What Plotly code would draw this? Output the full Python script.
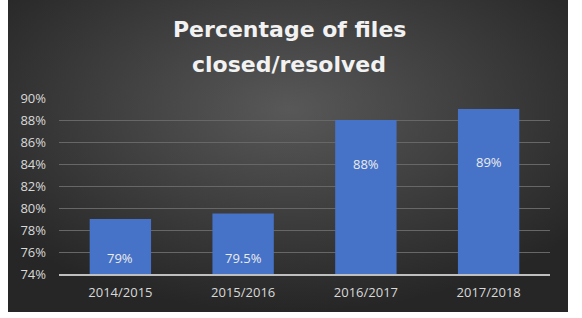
import base64
import plotly.graph_objects as go

# ---- data ----
categories = ["2014/2015", "2015/2016", "2016/2017", "2017/2018"]
values = [79, 79.5, 88, 89]
value_labels = ["79%", "79.5%", "88%", "89%"]
tick_vals = [74, 76, 78, 80, 82, 84, 86, 88, 90]
tick_text = ["74%", "76%", "78%", "80%", "82%", "84%", "86%", "88%", "90%"]
title_lines = ["Percentage of files", "closed/resolved"]

# label placement (as in the reference, labels sit at hand-placed heights)
label_y = [75.45, 75.45, 84.0, 84.2]

W, H = 582, 318
ml, mr, mt, mb = 59, 32, 98, 44
pw, ph = W - ml - mr, H - mt - mb

# radial gradient background panel as SVG image
svg = (
    '<svg xmlns="http://www.w3.org/2000/svg" width="560" height="312" '
    'viewBox="0 0 560 312" preserveAspectRatio="none">'
    '<defs><radialGradient id="g" cx="50%" cy="35%" r="65%">'
    '<stop offset="0" stop-color="#585858"/>'
    '<stop offset="1" stop-color="#262626"/>'
    '</radialGradient></defs>'
    '<rect width="560" height="312" fill="url(#g)"/></svg>'
)
src = "data:image/svg+xml;base64," + base64.b64encode(svg.encode()).decode()

panel_l, panel_r, panel_t, panel_b = 8, 568, 0, 312
img_x = (panel_l - ml) / pw
img_y = (H - mb - panel_t) / ph
img_sx = (panel_r - panel_l) / pw
img_sy = (panel_b - panel_t) / ph


def py(pixel_y):
    return (H - mb - pixel_y) / ph


def px(pixel_x):
    return (pixel_x - ml) / pw


fig = go.Figure()
fig.add_trace(go.Bar(
    x=categories, y=values,
    marker=dict(color="#4673c8", line=dict(width=0)),
    hoverinfo="skip",
))

for c, lab, ly in zip(categories, value_labels, label_y):
    fig.add_annotation(x=c, y=ly, text=lab, showarrow=False,
                       font=dict(family="Open Sans", size=13, color="#ececec"),
                       xanchor="center", yanchor="middle")

for line, cy in zip(title_lines, [30, 64]):
    fig.add_annotation(xref="paper", yref="paper", x=px(289), y=py(cy),
                       text=line, showarrow=False,
                       xanchor="center", yanchor="middle",
                       font=dict(family="DejaVu Sans", size=22,
                                 color="#f2f2f2", weight="bold"))

fig.update_layout(
    width=W, height=H,
    margin=dict(l=ml, r=mr, t=mt, b=mb, pad=0),
    paper_bgcolor="white",
    plot_bgcolor="rgba(0,0,0,0)",
    bargap=0.5,
    showlegend=False,
    images=[dict(source=src, xref="paper", yref="paper",
                 x=img_x, y=img_y, sizex=img_sx, sizey=img_sy,
                 xanchor="left", yanchor="top", sizing="stretch",
                 layer="below")],
    xaxis=dict(
        showgrid=False, zeroline=False,
        showline=True, linecolor="#bfbfbf", linewidth=2,
        ticks="", tickfont=dict(family="Open Sans", size=13, color="#d9d9d9"),
        ticklabelstandoff=5,
    ),
    yaxis=dict(
        range=[74, 90], tickvals=tick_vals, ticktext=tick_text,
        showgrid=True, gridcolor="#676767", gridwidth=1,
        zeroline=False, showline=False, ticks="",
        tickfont=dict(family="Open Sans", size=13, color="#d9d9d9"),
        ticklabelstandoff=12,
    ),
)

fig.write_html("out.html")
